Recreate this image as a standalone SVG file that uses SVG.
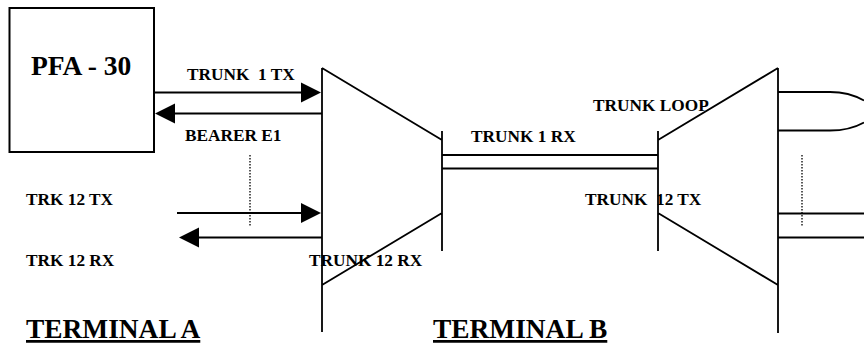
<svg xmlns="http://www.w3.org/2000/svg" width="864" height="345" viewBox="0 0 864 345">
<style>
.l{stroke:#000;stroke-width:1.8;fill:none}
.box{stroke:#000;stroke-width:2;fill:none}
.d{stroke:#000;stroke-width:1.3;stroke-dasharray:1.5 1.5;fill:none}
.a{fill:#000}
text{font-family:"Liberation Serif","Times New Roman",serif;font-weight:bold;fill:#000;white-space:pre}
.s{font-size:17.300px}
.b{font-size:27.500px}
.t{font-size:27.400px;text-decoration:underline}
</style>
<rect width="864" height="345" fill="#fff"/>
<g id="pfa30"><rect class="box" x="9.500" y="8" width="144.500" height="144"/><text class="b" x="31" y="75">PFA - 30</text></g>
<g id="muxA"><path class="l" d="M322 68V332M322 68L442 140M322 285L442 213M442 131V251"/></g>
<g id="muxB"><path class="l" d="M658 131V251M658 140L778 68M658 213L778 285M778 68V333"/></g>
<g id="connectors">
<path class="l" d="M154 92.500H303M322 113.500H173M177 213H303M322 237.500H197"/>
<polygon class="a" points="321,92.500 301,82.500 301,102.500"/>
<polygon class="a" points="155,113.500 175,103.500 175,123.500"/>
<polygon class="a" points="321,213 301,203 301,223"/>
<polygon class="a" points="179,237.500 199,227.500 199,247.500"/>
<path class="l" d="M442 155H658M442 168.500H658"/>
<path class="l" d="M778 92H830C845 92 856 96 864 100.500M778 130.500H830C845 130.500 856 127 864 122.500"/>
<path class="l" d="M778 213.500H864M778 237.500H864"/>
<path class="d" d="M250 155V226M802 155V226"/>
</g>
<g id="labels">
<text class="s" x="187" y="80">TRUNK  1 TX</text>
<text class="s" x="185" y="141">BEARER E1</text>
<text class="s" x="26" y="205">TRK 12 TX</text>
<text class="s" x="26" y="266">TRK 12 RX</text>
<text class="s" x="309" y="266">TRUNK 12 RX</text>
<text class="s" x="471" y="141.500">TRUNK 1 RX</text>
<text class="s" x="593" y="111">TRUNK LOOP</text>
<text class="s" x="585" y="205">TRUNK  12 TX</text>
<text class="t" x="26" y="338">TERMINAL A</text>
<text class="t" x="433" y="338">TERMINAL B</text>
</g>
</svg>
